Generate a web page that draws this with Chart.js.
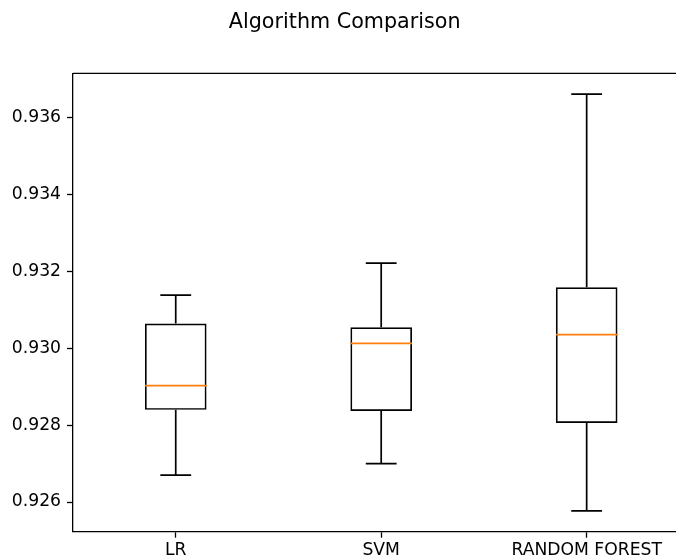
<!DOCTYPE html>
<html>
<head>
<meta charset="utf-8">
<script src="https://cdn.jsdelivr.net/npm/chart.js@4.4.0/dist/chart.umd.min.js"></script>
<style>
  html, body { margin: 0; padding: 0; background: #fff; overflow: hidden; }
  #wrap { width: 676px; height: 559px; overflow: hidden; }
</style>
</head>
<body>
<div id="wrap">
  <canvas id="box-chart" width="740" height="559"></canvas>
</div>
<script>
// values
const categories = ['LR', 'SVM', 'RANDOM FOREST'];
const whiskerLow = [0.92670, 0.92700, 0.92577];
const q1 = [0.92840, 0.92837, 0.92806];
const medians = [0.92903, 0.93013, 0.93036];
const q3 = [0.93065, 0.93055, 0.93159];
const whiskerHigh = [0.93139, 0.93222, 0.93662];

// matplotlib style 5% margin around the data
let lo = Math.min(...whiskerLow);
let hi = Math.max(...whiskerHigh);
let margin = (hi - lo) * 0.05;

const lineW = 1.7;

// whiskers, caps, medians and the top spine
const boxExtras = {
    id: 'boxExtras',
    afterDatasetsDraw(chart) {
        const ctx = chart.ctx;
        const x = chart.scales.x;
        const y = chart.scales.y;
        const meta = chart.getDatasetMeta(0);
        ctx.save();
        ctx.lineWidth = lineW;
        categories.forEach((c, i) => {
            let cx = x.getPixelForValue(i);
            let half = meta.data[i].width / 2;
            let capHalf = half / 2;

            ctx.strokeStyle = '#000';
            ctx.beginPath();
            ctx.moveTo(cx, y.getPixelForValue(q3[i]));
            ctx.lineTo(cx, y.getPixelForValue(whiskerHigh[i]));
            ctx.moveTo(cx - capHalf, y.getPixelForValue(whiskerHigh[i]));
            ctx.lineTo(cx + capHalf, y.getPixelForValue(whiskerHigh[i]));
            ctx.moveTo(cx, y.getPixelForValue(q1[i]));
            ctx.lineTo(cx, y.getPixelForValue(whiskerLow[i]));
            ctx.moveTo(cx - capHalf, y.getPixelForValue(whiskerLow[i]));
            ctx.lineTo(cx + capHalf, y.getPixelForValue(whiskerLow[i]));
            ctx.stroke();

            ctx.strokeStyle = '#ff7f0e';
            ctx.beginPath();
            ctx.moveTo(cx - half, y.getPixelForValue(medians[i]));
            ctx.lineTo(cx + half, y.getPixelForValue(medians[i]));
            ctx.stroke();
        });
        let a = chart.chartArea;
        ctx.strokeStyle = '#000';
        ctx.lineWidth = 1.3;
        ctx.beginPath();
        ctx.moveTo(a.left, a.top);
        ctx.lineTo(a.right, a.top);
        ctx.stroke();
        ctx.restore();
    }
};

let ctx = document.getElementById('box-chart');
let myChart = new Chart(ctx, {
    type: 'bar',
    data: {
        labels: categories,
        datasets: [{
            data: categories.map((c, i) => [q1[i], q3[i]]),
            backgroundColor: 'rgba(0,0,0,0)',
            borderColor: '#000',
            borderWidth: lineW,
            borderSkipped: false,
            barPercentage: 0.3,
            categoryPercentage: 1.0
        }]
    },
    options: {
        responsive: false,
        animation: false,
        layout: { padding: { left: 0, right: 50.6, top: 0, bottom: 0 } },
        plugins: {
            legend: { display: false },
            tooltip: { enabled: false },
            title: {
                display: true,
                text: 'Algorithm Comparison',
                color: '#000',
                font: { family: 'DejaVu Sans', size: 20.7, weight: 'normal' },
                padding: { top: 10.6, bottom: 37.9 }
            }
        },
        scales: {
            x: {
                offset: true,
                grid: { offset: false, drawOnChartArea: false, tickLength: 6, color: '#000', tickWidth: 1.3 },
                border: { display: true, color: '#000', width: 1.3 },
                ticks: { color: '#000', padding: 3, font: { family: 'DejaVu Sans', size: 17.2 } },
                afterFit(scale) { scale.height = 27.3; }
            },
            y: {
                min: lo - margin,
                max: hi + margin,
                grid: { drawOnChartArea: false, tickLength: 6, color: '#000', tickWidth: 1.3 },
                border: { display: true, color: '#000', width: 1.3 },
                ticks: {
                    stepSize: 0.002,
                    includeBounds: false,
                    color: '#000',
                    padding: 6,
                    font: { family: 'DejaVu Sans', size: 17.2 },
                    callback: (v) => v.toFixed(3)
                },
                afterFit(scale) { scale.width = 73; }
            }
        }
    },
    plugins: [boxExtras]
});
</script>
</body>
</html>
